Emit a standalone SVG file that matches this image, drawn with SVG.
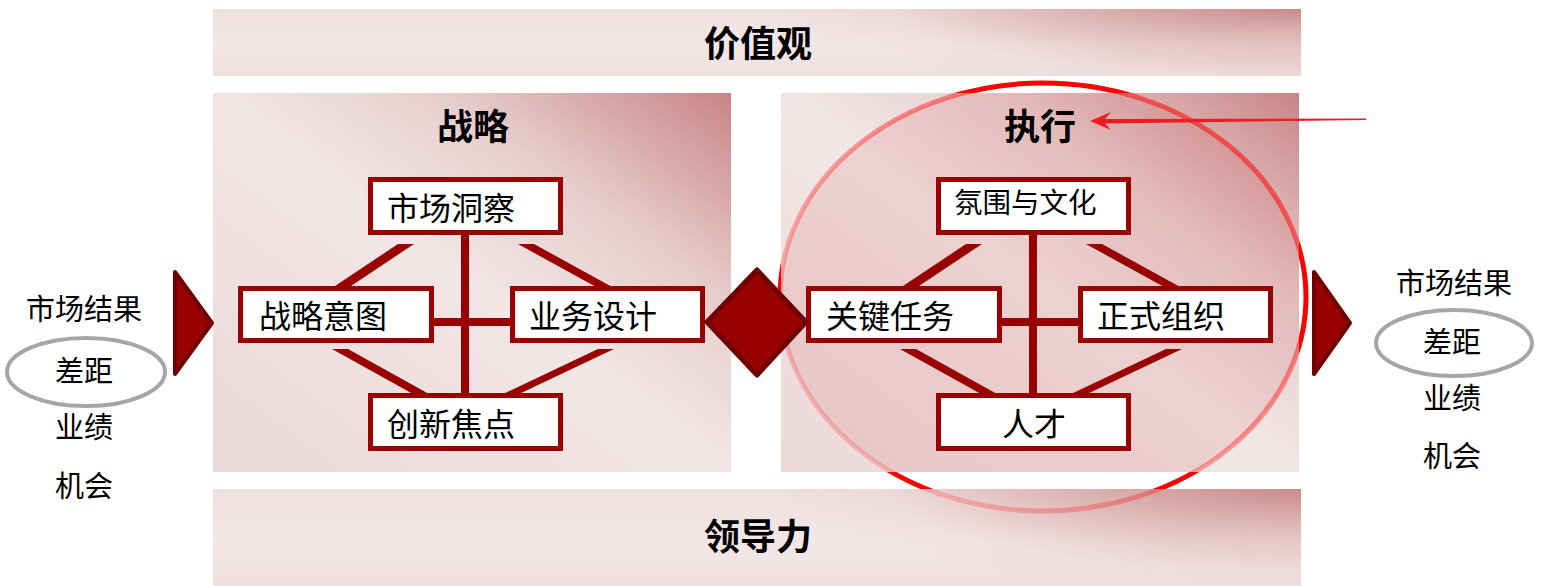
<svg xmlns="http://www.w3.org/2000/svg" width="1546" height="586" viewBox="0 0 1546 586">
<style>
.t{font-family:"Noto Sans CJK SC","Microsoft YaHei",sans-serif;fill:#000}
.title{font-size:36px;font-weight:700;text-anchor:middle}
.box{fill:#fff;stroke:#990000;stroke-width:5}
.bt{font-size:32px}
.side{font-size:29px;text-anchor:middle}
.conn{stroke:#990000;stroke-width:8;fill:none}
.diag{fill:#990000}
.tri{fill:#990000;stroke:#700000;stroke-width:4;stroke-linejoin:round}
.gap{fill:none;stroke:#A6A6A6;stroke-width:4}
</style>
<defs>
<linearGradient id="gPanel" x1="0" y1="1" x2="1" y2="0">
<stop offset="0" stop-color="#ECD8D8"/>
<stop offset="0.5" stop-color="#F2E6E6"/>
<stop offset="0.72" stop-color="#E7CDCD"/>
<stop offset="1" stop-color="#C98484"/>
</linearGradient>
<radialGradient id="gBandTop" gradientUnits="userSpaceOnUse" cx="1301" cy="9" r="520" gradientTransform="translate(1301 9) scale(1 0.16) translate(-1301 -9)">
<stop offset="0" stop-color="#CB8A8A"/>
<stop offset="0.45" stop-color="#DDB4B4"/>
<stop offset="0.8" stop-color="#EDDADA"/>
<stop offset="1" stop-color="#EFE0E0"/>
</radialGradient>
<radialGradient id="gBandBot" gradientUnits="userSpaceOnUse" cx="1301" cy="489" r="520" gradientTransform="translate(1301 489) scale(1 0.2) translate(-1301 -489)">
<stop offset="0" stop-color="#CB8A8A"/>
<stop offset="0.45" stop-color="#DDB4B4"/>
<stop offset="0.8" stop-color="#EDDADA"/>
<stop offset="1" stop-color="#EFE0E0"/>
</radialGradient>
<linearGradient id="gStreak" x1="0" y1="0" x2="0" y2="1">
<stop offset="0" stop-color="#FFFFFF" stop-opacity="0"/>
<stop offset="0.55" stop-color="#FFFFFF" stop-opacity="0.22"/>
<stop offset="1" stop-color="#FFFFFF" stop-opacity="0"/>
</linearGradient>
<linearGradient id="gRing" x1="1" y1="0" x2="0" y2="1">
<stop offset="0" stop-color="#FF0000" stop-opacity="0.6"/>
<stop offset="1" stop-color="#FF0000" stop-opacity="0.12"/>
</linearGradient>
<clipPath id="cPanel"><rect x="781" y="93" width="518" height="379"/></clipPath>
<clipPath id="cRing"><rect x="781" y="93" width="518" height="379"/><rect x="213" y="489" width="1088" height="97"/></clipPath>
</defs>

<ellipse id="focus-ring" cx="1043" cy="297" rx="263" ry="214" fill="none" stroke="#FF0000" stroke-width="5"/>

<g id="values">
<rect x="213" y="9" width="1088" height="67" fill="url(#gBandTop)"/>
<rect x="213" y="9" width="1088" height="67" fill="url(#gStreak)"/>
<text class="t title" x="758" y="57">价值观</text>
</g>
<g id="leadership">
<rect x="213" y="489" width="1088" height="97" fill="url(#gBandBot)"/>
<rect x="213" y="489" width="1088" height="97" fill="url(#gStreak)"/>
<text class="t title" x="758" y="550">领导力</text>
</g>
<g id="strategy-panel">
<rect x="213" y="93" width="518" height="379" fill="url(#gPanel)"/>
</g>
<g id="execution-panel">
<rect x="781" y="93" width="518" height="379" fill="url(#gPanel)"/>
<ellipse cx="1043" cy="297" rx="263" ry="214" fill="#C00000" fill-opacity="0.09" clip-path="url(#cPanel)"/>
</g>
<ellipse cx="1043" cy="297" rx="263" ry="214" fill="none" stroke="url(#gRing)" stroke-width="5" clip-path="url(#cRing)"/>

<g id="strategy-title"><text class="t title" x="473" y="140">战略</text></g>
<g id="execution-title"><text class="t title" x="1040" y="140">执行</text></g>

<g id="connectors">
<line class="conn" x1="465" y1="235" x2="465" y2="394"/>
<line class="conn" x1="434" y1="322" x2="510" y2="322"/>
<polygon class="diag" points="398,244 414,244 348,288 332,288"/>
<polygon class="diag" points="518,244 534,244 614,288 598,288"/>
<polygon class="diag" points="332,349 348,349 429,394 413,394"/>
<polygon class="diag" points="598,349 614,349 519,394 503,394"/>
<line class="conn" x1="1033" y1="235" x2="1033" y2="394"/>
<line class="conn" x1="1002" y1="322" x2="1078" y2="322"/>
<polygon class="diag" points="966,244 982,244 916,288 900,288"/>
<polygon class="diag" points="1086,244 1102,244 1182,288 1166,288"/>
<polygon class="diag" points="900,349 916,349 997,394 981,394"/>
<polygon class="diag" points="1166,349 1182,349 1087,394 1071,394"/>
</g>

<g id="market-insight"><rect class="box" x="370.5" y="179.5" width="190" height="53"/><text class="t bt" x="387" y="220">市场洞察</text></g>
<g id="strategic-intent"><rect class="box" x="240.5" y="288.5" width="191" height="52"/><text class="t bt" x="259" y="328">战略意图</text></g>
<g id="business-design"><rect class="box" x="512.5" y="288.5" width="190" height="52"/><text class="t bt" x="529" y="328">业务设计</text></g>
<g id="innovation-focus"><rect class="box" x="370.5" y="395.5" width="190" height="53"/><text class="t bt" x="387" y="436">创新焦点</text></g>

<g id="climate-culture"><rect class="box" x="938.5" y="179.5" width="190" height="53"/><text class="t" style="font-size:28.5px" x="954" y="213">氛围与文化</text></g>
<g id="key-tasks"><rect class="box" x="808.5" y="288.5" width="191" height="52"/><text class="t bt" x="826" y="328">关键任务</text></g>
<g id="formal-org"><rect class="box" x="1080.5" y="288.5" width="190" height="52"/><text class="t bt" x="1097" y="328">正式组织</text></g>
<g id="talent"><rect class="box" x="938.5" y="395.5" width="190" height="53"/><text class="t bt" x="1034" y="436" text-anchor="middle">人才</text></g>

<g id="diamond"><polygon class="tri" style="stroke-width:5" points="757,270 806,322 757,375 707,322"/></g>
<g id="left-arrow"><polygon class="tri" points="175,272 212,323 175,374"/></g>
<g id="right-arrow"><polygon class="tri" points="1314,272 1350,323 1314,374"/></g>

<g id="left-results">
<text class="t side" x="84" y="320">市场结果</text>
<ellipse class="gap" cx="86" cy="372" rx="79" ry="34"/>
<text class="t side" x="84" y="382">差距</text>
<text class="t side" x="84" y="438">业绩</text>
<text class="t side" x="84" y="497">机会</text>
</g>
<g id="right-results">
<text class="t side" x="1454" y="294">市场结果</text>
<ellipse class="gap" cx="1454" cy="343" rx="78" ry="33"/>
<text class="t side" x="1452" y="353">差距</text>
<text class="t side" x="1452" y="409">业绩</text>
<text class="t side" x="1452" y="467">机会</text>
</g>

<g id="pointer">
<polygon fill="#ED1C24" points="1090,121 1111,112 1105,119 1366,118.5 1366,120 1105,123.5 1111,130"/>
</g>
</svg>
